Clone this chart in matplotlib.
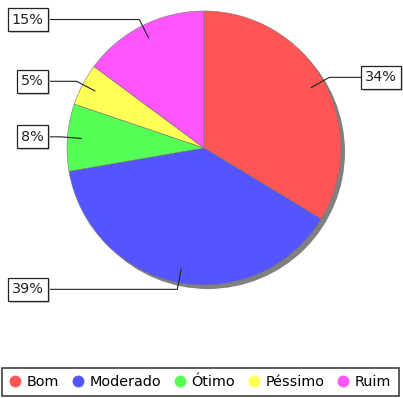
import numpy as np
import matplotlib
matplotlib.use("Agg")
import matplotlib.pyplot as plt
from matplotlib.lines import Line2D
from matplotlib.patches import Circle, Rectangle

# Data
categories = ["Bom", "Moderado", "Ótimo", "Péssimo", "Ruim"]
percentages = [34, 39, 8, 5, 15]
colors = ["#FF5555", "#5555FF", "#55FF55", "#FFFF55", "#FF55FF"]

W, H = 403, 398
fig = plt.figure(figsize=(W / 100, H / 100), dpi=100)
ax = fig.add_axes([0, 0, 1, 1])

cx, cy = 204, H - 148
R = 137

# drop shadow
ax.add_patch(Circle((cx + 4, cy - 4), R, facecolor="#808080", edgecolor="none", zorder=1))

wedges, _ = ax.pie(percentages, colors=colors, startangle=90, counterclock=False,
                   center=(cx, cy), radius=R, frame=True,
                   wedgeprops=dict(edgecolor="#777777", linewidth=0.4, zorder=2))
ax.set_xlim(0, W)
ax.set_ylim(0, H)
ax.set_aspect("equal")
ax.axis("off")

fs = 10.4
total = float(sum(percentages))
start = 90.0
labels = []
for val in percentages:
    sweep = 360.0 * val / total
    mid = np.deg2rad(start - sweep / 2)
    start -= sweep
    d = np.array([np.cos(mid), np.sin(mid)])
    anchor = np.array([cx, cy]) + 0.9 * R * d
    elbow = np.array([cx, cy]) + 1.05 * R * d
    if d[0] >= 0:
        bx, ha, edge = 365, "left", 361
    else:
        bx, ha, edge = 43.5, "right", 47.5
    ax.plot([edge, elbow[0], anchor[0]], [elbow[1], elbow[1], anchor[1]],
            color="#222222", lw=0.8, zorder=4, solid_joinstyle="miter")
    t = ax.text(bx, elbow[1], f"{val}%", ha=ha, va="center", fontsize=fs,
                color="#222222", zorder=7)
    labels.append(t)

# label boxes with a soft shadow
fig.canvas.draw()
box_h = 23
for t in labels:
    bb = t.get_window_extent()
    x0 = bb.x0 - 4
    w = bb.width + 8
    y0 = t.get_position()[1] - box_h / 2
    ax.add_patch(Rectangle((x0 + 2, y0 - 2), w, box_h,
                           facecolor="#d0d0d0", edgecolor="none", zorder=5))
    ax.add_patch(Rectangle((x0, y0), w, box_h, facecolor="white",
                           edgecolor="#222222", linewidth=0.9, zorder=6))

handles = [Line2D([], [], marker="o", linestyle="none", markersize=8,
                  markerfacecolor=c, markeredgecolor=c, markeredgewidth=0.5)
           for c in colors]
leg = fig.legend(handles, categories, loc="center", ncol=5,
                 bbox_to_anchor=(200.5 / W, 1 - 382 / H), frameon=True, fancybox=False,
                 fontsize=fs, handlelength=0.8, handletextpad=0.4, columnspacing=0.9,
                 borderpad=0.5, borderaxespad=0)
leg.get_frame().set_edgecolor("#111111")
leg.get_frame().set_linewidth(1.2)

fig.savefig("out.png", dpi=100)
